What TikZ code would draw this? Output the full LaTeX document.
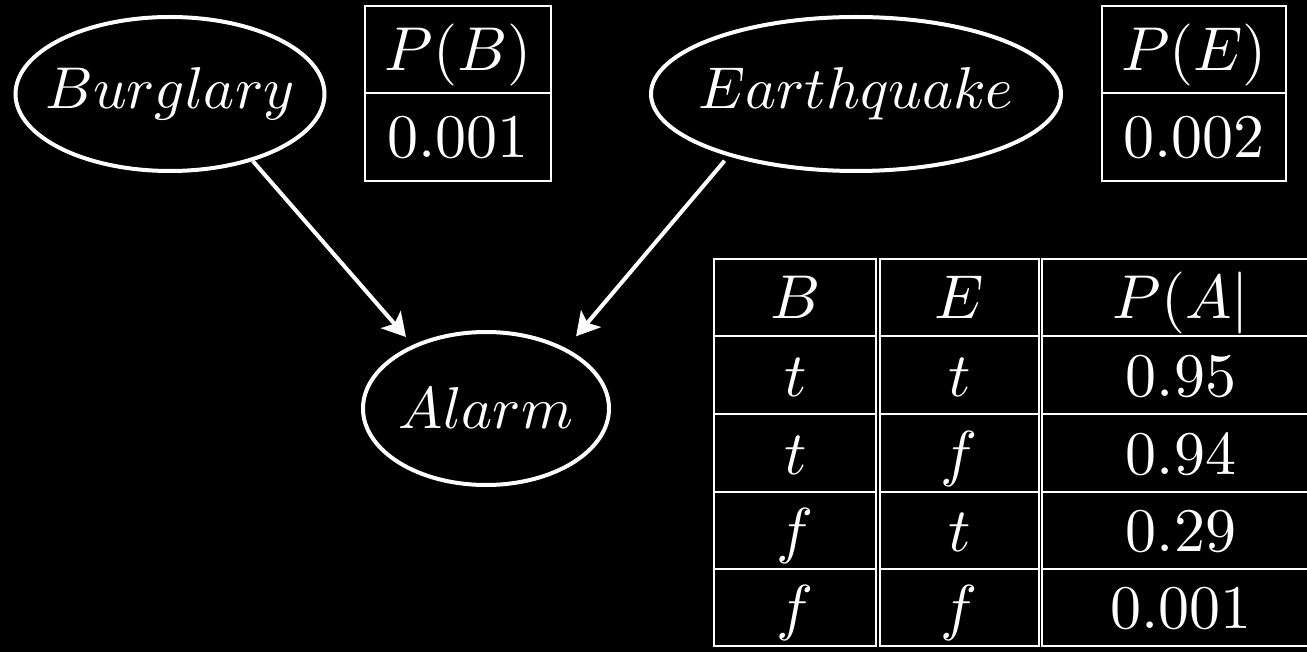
\documentclass[tikz,border=0pt]{standalone}
\usetikzlibrary{arrows.meta,shapes.geometric}
\newcommand{\bigtxt}[1]{\scalebox{2.95}{#1}}
\newcommand{\tabtxt}[1]{\scalebox{3.1}{#1}}
\begin{document}
\begin{tikzpicture}[x=0.5pt,y=-0.5pt,
  lbl/.style={text=white, inner sep=0pt, font=\normalsize},
  cell/.style={lbl, anchor=base},
  ellnode/.style={ellipse, draw=white, line width=2pt, inner sep=0pt},
  arr/.style={draw=white, line width=2pt, -{Stealth[length=11.5pt, width=13pt, inset=2.7pt]}},
  tab/.style={draw=white, line width=1pt}]
\fill[black] (0,0) rectangle (1307,652);
\useasboundingbox (0,0) rectangle (1307,652);
\clip (0,0) rectangle (1307,652);

% network nodes
\node[ellnode, minimum width=154.5pt, minimum height=77pt] (B) at (170,94) {};
\node[lbl] (Btxt) at (B.center) {\bigtxt{$Burglary$}};
\node[ellnode, minimum width=205pt, minimum height=77pt] (E) at (856,94) {};
\node[lbl] (Etxt) at (E.center) {\bigtxt{$Earthquake$}};
\node[ellnode, minimum width=123pt, minimum height=76.5pt] (A) at (486,408.5) {};
\node[lbl] (Atxt) at (A.center) {\bigtxt{$Alarm$}};

% arrows
\draw[arr, shorten >=5.2pt] (B.-39.5) -- (A.139);
\draw[arr, shorten <=3pt, shorten >=7.8pt] (E.206.5) -- (A.37.8);

% P(B) table
\draw[tab] (365,6) rectangle (551,181);
\draw[tab] (365,93) -- (551,93);
\node[cell] (pb) at (458,71) {\tabtxt{$P(B)$}};
\node[cell] (pbv) at (458,158) {\tabtxt{$0.001$}};

% P(E) table
\draw[tab] (1102,6) rectangle (1286,181);
\draw[tab] (1102,93) -- (1286,93);
\node[cell] (pe) at (1194,71) {\tabtxt{$P(E)$}};
\node[cell] (pev) at (1194,158) {\tabtxt{$0.002$}};

% CPT for Alarm
\draw[tab] (714,259) rectangle (876,646);
\draw[tab] (880,259) rectangle (1038.5,646);
\draw[tab] (1042,259) rectangle (1330,646);
\foreach \yy in {336.5,414,491.5,569}{
  \draw[tab] (714,\yy) -- (876,\yy);
  \draw[tab] (880,\yy) -- (1038.5,\yy);
  \draw[tab] (1042,\yy) -- (1330,\yy);
}
\node[cell] (hB) at (795.5,319) {\tabtxt{$B$}};
\node[cell] (hE) at (959.5,319) {\tabtxt{$E$}};
\node[cell] (hP) at (1181,319) {\tabtxt{$P(A|$}};

\node[cell] (r1b) at (795.5,396) {\tabtxt{$t$}};
\node[cell] (r1e) at (959.5,396) {\tabtxt{$t$}};
\node[cell] (r1p) at (1181,396) {\tabtxt{$0.95$}};

\node[cell] (r2b) at (795.5,474) {\tabtxt{$t$}};
\node[cell] (r2e) at (959.5,474) {\tabtxt{$f$}};
\node[cell] (r2p) at (1181,474) {\tabtxt{$0.94$}};

\node[cell] (r3b) at (795.5,551) {\tabtxt{$f$}};
\node[cell] (r3e) at (959.5,551) {\tabtxt{$t$}};
\node[cell] (r3p) at (1181,551) {\tabtxt{$0.29$}};

\node[cell] (r4b) at (795.5,628.5) {\tabtxt{$f$}};
\node[cell] (r4e) at (959.5,628.5) {\tabtxt{$f$}};
\node[cell] (r4p) at (1181,628.5) {\tabtxt{$0.001$}};
\end{tikzpicture}
\end{document}
